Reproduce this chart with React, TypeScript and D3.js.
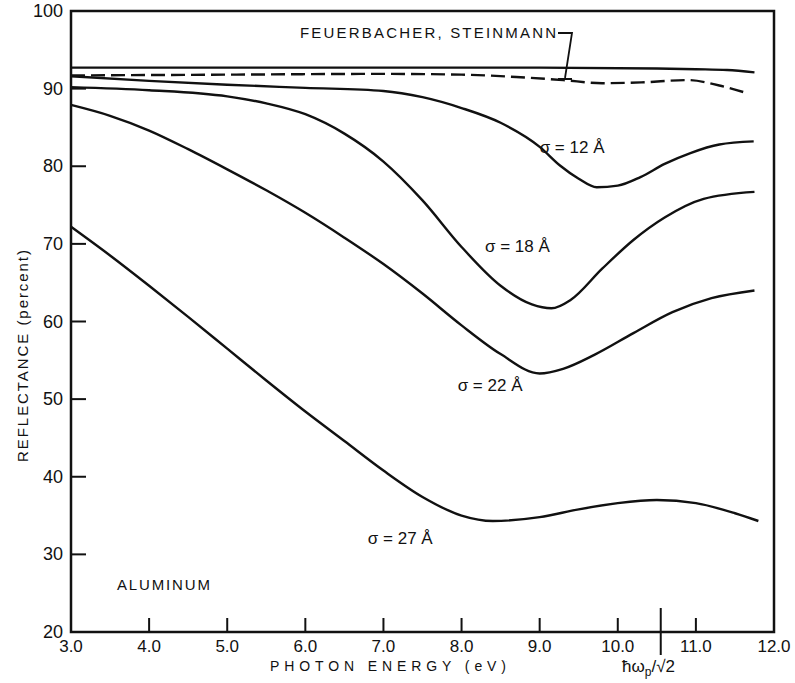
import * as d3 from 'd3';

// photon energy (eV) / reflectance (percent)
const feuerSolid: [number, number][] = [
  [3.0, 92.7], [5.0, 92.7], [7.0, 92.7], [9.0, 92.7], [10.5, 92.6], [11.0, 92.5], [11.4, 92.4], [11.75, 92.1],
];
const feuerDashed: [number, number][] = [
  [3.0, 91.7], [5.0, 91.8], [7.0, 91.9], [8.0, 91.8], [8.7, 91.5], [9.3, 91.1], [9.8, 90.7], [10.3, 90.8],
  [10.9, 91.1], [11.3, 90.4], [11.66, 89.4],
];
const sigma12: [number, number][] = [
  [3.0, 91.6], [4.0, 91.0], [5.0, 90.5], [6.0, 90.1], [7.0, 89.7], [7.5, 88.9], [8.0, 87.5], [8.5, 85.6],
  [9.0, 82.5], [9.26, 80.1], [9.5, 78.4], [9.73, 77.3], [10.0, 77.5], [10.29, 78.6],
  [10.6, 80.3], [10.93, 81.7], [11.3, 82.8], [11.74, 83.2],
];
const sigma18: [number, number][] = [
  [3.0, 90.2], [4.0, 89.8], [5.0, 89.0], [5.5, 88.1], [6.0, 86.7], [6.5, 84.2], [7.0, 80.6], [7.5, 75.6],
  [8.0, 69.6], [8.5, 64.6], [8.9, 62.2], [9.15, 61.7], [9.4, 62.8], [9.8, 66.8], [10.2, 70.5],
  [10.6, 73.4], [11.1, 75.8], [11.75, 76.7],
];
const sigma22: [number, number][] = [
  [3.0, 87.9], [3.5, 86.5], [4.0, 84.6], [4.5, 82.2], [5.0, 79.6], [5.5, 76.9], [6.0, 74.0], [6.5, 70.8],
  [7.0, 67.4], [7.5, 63.6], [8.0, 59.5], [8.5, 55.8], [9.0, 53.3], [9.3, 53.9], [9.7, 55.7], [10.2, 58.5],
  [10.7, 61.2], [11.2, 63.0], [11.75, 64.0],
];
const sigma27: [number, number][] = [
  [3.0, 72.2], [3.5, 68.5], [4.0, 64.6], [4.5, 60.6], [5.0, 56.5], [5.5, 52.4], [6.0, 48.4], [6.5, 44.6],
  [7.0, 40.8], [7.5, 37.4], [8.0, 35.0], [8.4, 34.3], [9.0, 34.8], [9.5, 35.8], [10.0, 36.6], [10.5, 37.0],
  [11.0, 36.6], [11.5, 35.3], [11.8, 34.3],
];

const xTicks = [3, 4, 5, 6, 7, 8, 9, 10, 11, 12];
const yTicks = [20, 30, 40, 50, 60, 70, 80, 90, 100];
const plasmaEnergy = 10.55; // ħωp/√2 marker

const curveLabels = [
  { text: 'σ = 12 Å', e: 9.0, r: 81.7 },
  { text: 'σ = 18 Å', e: 8.3, r: 69.0 },
  { text: 'σ = 22 Å', e: 7.95, r: 51.0 },
  { text: 'σ = 27 Å', e: 6.8, r: 31.3 },
];

const W = 795;
const H = 683;
const left = 71, right = 774, top = 11, bottom = 632;

export default function App() {
  const x = d3.scaleLinear().domain([3, 12]).range([left, right]);
  const y = d3.scaleLinear().domain([20, 100]).range([bottom, top]);
  const line = d3
    .line<[number, number]>()
    .x((d) => x(d[0]))
    .y((d) => y(d[1]))
    .curve(d3.curveMonotoneX);

  const ink = '#111';
  const font = 'Liberation Sans, Arial, sans-serif';
  const solids = [feuerSolid, sigma12, sigma18, sigma22, sigma27];

  return (
    <svg width={W} height={H} style={{ position: 'absolute', left: 0, top: 0, background: '#fff' }}>
      <rect x={left} y={top} width={right - left} height={bottom - top} fill="none" stroke={ink} strokeWidth={2.5} />

      {xTicks.slice(1, -1).map((t) => (
        <line key={'xt' + t} x1={x(t)} x2={x(t)} y1={bottom} y2={bottom - 14} stroke={ink} strokeWidth={2} />
      ))}
      {yTicks.slice(1, -1).map((t) => (
        <line key={'yt' + t} x1={left} x2={left + 15} y1={y(t)} y2={y(t)} stroke={ink} strokeWidth={2} />
      ))}
      <line x1={x(plasmaEnergy)} x2={x(plasmaEnergy)} y1={bottom - 24} y2={bottom + 23} stroke={ink} strokeWidth={2} />

      {xTicks.map((t) => (
        <text key={'xl' + t} x={x(t)} y={bottom + 20} textAnchor="middle" fontFamily={font} fontSize={17} fill={ink}>
          {t.toFixed(1)}
        </text>
      ))}
      {yTicks.map((t) => (
        <text key={'yl' + t} x={left - 8} y={y(t) + 6} textAnchor="end" fontFamily={font} fontSize={18} fill={ink}>
          {t}
        </text>
      ))}

      {solids.map((s, i) => (
        <path key={'s' + i} d={line(s) || ''} fill="none" stroke={ink} strokeWidth={2.4} />
      ))}
      <path d={line(feuerDashed) || ''} fill="none" stroke={ink} strokeWidth={2.4} strokeDasharray="14 6" />

      <text x={300} y={38} fontFamily={font} fontSize={15} fill={ink} textLength={256} lengthAdjust="spacing">
        FEUERBACHER, STEINMANN
      </text>
      <polyline points="558,33 572,33 565,78" fill="none" stroke={ink} strokeWidth={1.8} />
      <line x1={558} x2={572} y1={79} y2={79} stroke={ink} strokeWidth={2} />

      {curveLabels.map((l) => (
        <text key={l.text} x={x(l.e)} y={y(l.r)} fontFamily={font} fontSize={17} fill={ink}>
          {l.text}
        </text>
      ))}

      <text x={117} y={590} fontFamily={font} fontSize={15} fill={ink} textLength={93} lengthAdjust="spacing">
        ALUMINUM
      </text>
      <text x={270} y={671} fontFamily={font} fontSize={14} fill={ink} textLength={236} lengthAdjust="spacing">
        PHOTON ENERGY (eV)
      </text>
      <text x={622} y={672} fontFamily={font} fontSize={17} fill={ink}>
        ħω<tspan fontSize={12} dy={4}>p</tspan>
        <tspan dy={-4}>/√2</tspan>
      </text>
      <text
        transform="translate(28,356) rotate(-90)"
        textAnchor="middle"
        fontFamily={font}
        fontSize={15}
        fill={ink}
        textLength={212}
        lengthAdjust="spacing"
      >
        REFLECTANCE (percent)
      </text>
    </svg>
  );
}
